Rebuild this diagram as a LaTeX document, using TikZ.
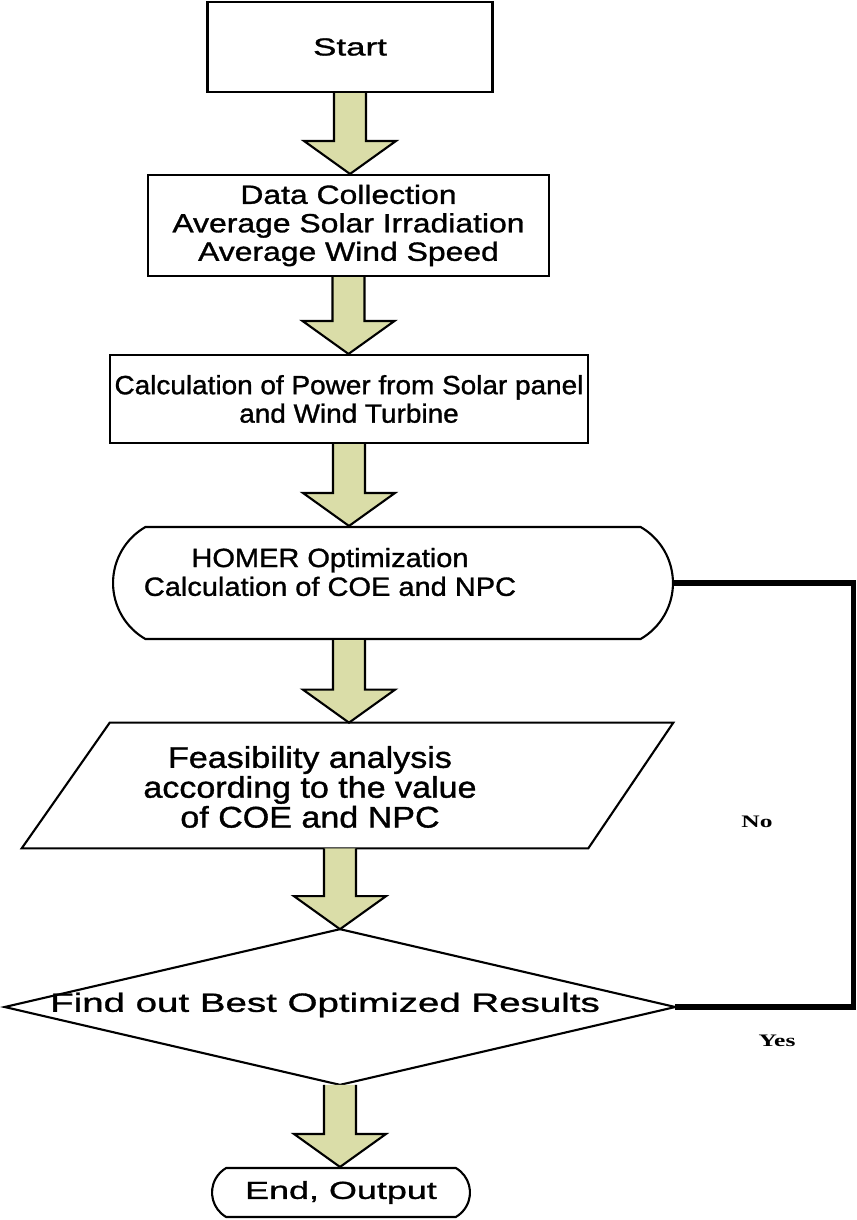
\documentclass[tikz,border=0pt]{standalone}
\usepackage{fontspec}
\setmainfont{Liberation Sans}
\newfontfamily\labelfont[FakeStretch=1.45]{Liberation Serif}
\usetikzlibrary{calc,shapes.misc}
\definecolor{arrowfill}{RGB}{218,221,168}

% text of the flow boxes, widened as in the picture
\newcommand{\flowtext}[3]{\fontsize{#1}{#2}\selectfont\addfontfeature{FakeStretch=#3,FakeBold=1.2}}
% block arrow from #1 (top) to #2 (tip)
\newcommand{\blockarrow}[2]{%
  \path (#1) coordinate (ta) (#2) coordinate (tb);
  \draw[flowarrow] ($(ta)+(-16,0)$) -- ($(tb)+(-16,-33)$) -- ($(tb)+(-46,-33)$) -- (tb)
    -- ($(tb)+(46,-33)$) -- ($(tb)+(16,-33)$) -- ($(ta)+(16,0)$);}

\begin{document}
\begin{tikzpicture}[x=0.02cm,y=-0.02cm,
    box/.style={draw,line width=1.2pt,align=center,inner sep=0},
    stadium/.style={box,rounded rectangle,rounded rectangle arc length=120},
    txt/.style={align=center,inner sep=0},
    flowarrow/.style={draw=black,line width=1.2pt,fill=arrowfill,line join=miter},
    feedback/.style={line width=0.11cm},
    yesno/.style={font=\labelfont\bfseries\fontsize{10}{12}\selectfont,inner sep=0}]
    \useasboundingbox (0,0) rectangle (856,1220);
    %\draw[very thin,gray] (0,0) grid[step=50] (856,1220);
    \node[box,minimum width=5.7cm,minimum height=1.8cm,font=\flowtext{14}{16}{1.42}] (start) at (350,47) {Start};
    \node[box,minimum width=8.02cm,minimum height=2.02cm,font=\flowtext{15}{16.2}{1.21}] (data) at (348.5,225.5)
        {Data Collection\\Average Solar Irradiation\\Average Wind Speed};
    \node[box,minimum width=9.56cm,minimum height=1.76cm,font=\flowtext{15}{16.2}{1.06}] (calc) at (349,399)
        {Calculation of Power from Solar panel\\and Wind Turbine};
    \node[stadium,minimum width=11.2cm,minimum height=2.24cm] (homerbox) at (393,583) {};
    \node[txt,font=\flowtext{15}{16.4}{1.1}] (homer) at (330,572) {HOMER Optimization\\Calculation of COE and NPC};
    \node[minimum width=13.02cm,minimum height=2.5cm] (feasbox) at (347.5,785.5) {};
    \draw[line width=1.2pt] (feasbox.south west) -- ($(feasbox.north west)+(88,0)$) -- (feasbox.north east)
        -- ($(feasbox.south east)+(-85,0)$) -- cycle;
    \node[txt,font=\flowtext{17}{17}{1.14}] (feas) at (310,787)
        {Feasibility analysis\\according to the value\\of COE and NPC};
    \node[minimum width=13.4cm,minimum height=3.1cm] (decbox) at (340,1007) {};
    \draw[line width=1.2pt] (decbox.north) -- (decbox.east) -- (decbox.south) -- (decbox.west) -- cycle;
    \node[txt,font=\flowtext{15}{16}{1.46}] (dec) at (325,1005) {Find out Best Optimized Results};
    \node[stadium,minimum width=5.16cm,minimum height=0.98cm,font=\flowtext{14}{16}{1.46}] (finish) at (341,1192.5)
        {End, Output};

    % arrows down the chart
    \blockarrow{start.south}{start.south |- data.north}
    \blockarrow{data.south}{data.south |- calc.north}
    \blockarrow{calc.south}{calc.south |- homerbox.north}
    \blockarrow{calc.south |- homerbox.south}{calc.south |- feasbox.north}
    \blockarrow{decbox.north |- feasbox.south}{decbox.north}
    \blockarrow{decbox.south}{decbox.south |- finish.north}

    % loop back on the right
    \coordinate (fb) at (853.5,0);
    \draw[feedback] (homerbox.east) -- (homerbox.east -| fb) -- (decbox.east -| fb) -- (decbox.east);
    \node[yesno] (no) at (757,822) {No};
    \node[yesno] (yes) at (777,1041) {Yes};
\end{tikzpicture}
\end{document}
